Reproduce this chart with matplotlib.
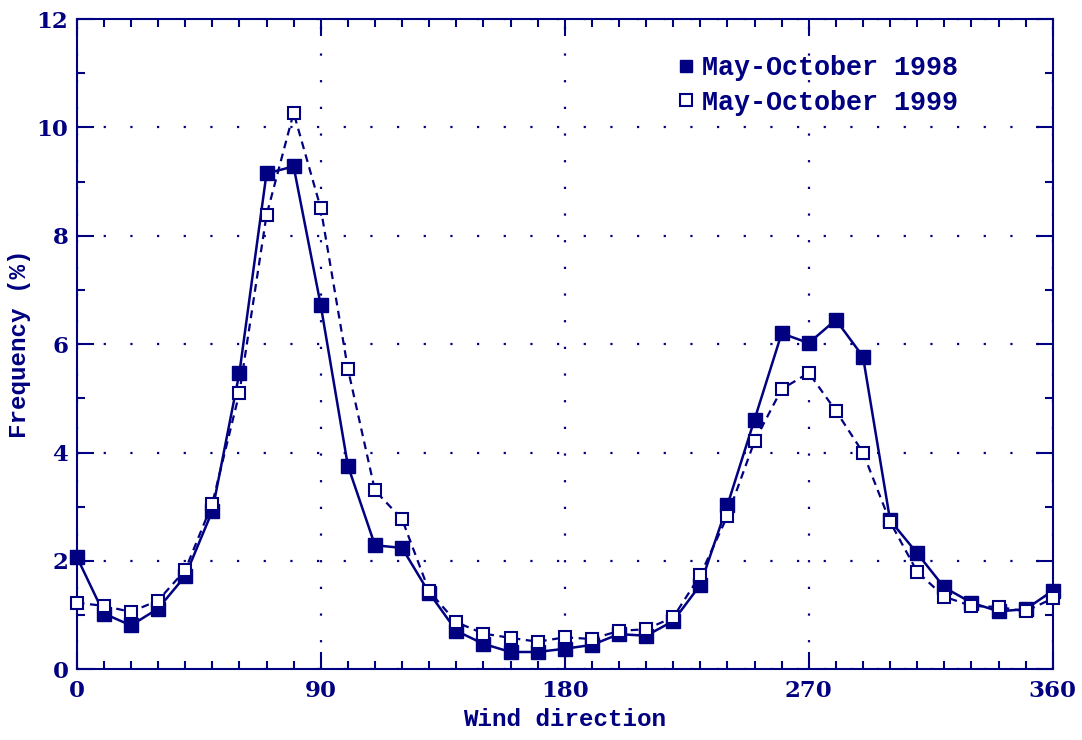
import matplotlib
matplotlib.use("Agg")
import matplotlib.pyplot as plt
from matplotlib.ticker import MultipleLocator

direction = list(range(0, 361, 10))
freq_1998 = [2.08, 1.03, 0.81, 1.12, 1.72, 2.92, 5.47, 9.15, 9.28, 6.72, 3.76, 2.29, 2.24, 1.41,
             0.71, 0.47, 0.32, 0.32, 0.38, 0.45, 0.65, 0.62, 0.89, 1.56, 3.03, 4.61, 6.20, 6.02,
             6.45, 5.77, 2.75, 2.14, 1.51, 1.23, 1.07, 1.11, 1.45]
freq_1999 = [1.23, 1.17, 1.06, 1.27, 1.83, 3.06, 5.10, 8.38, 10.27, 8.51, 5.55, 3.30, 2.77, 1.44,
             0.87, 0.66, 0.58, 0.51, 0.59, 0.56, 0.71, 0.74, 0.96, 1.74, 2.83, 4.21, 5.17, 5.47,
             4.77, 4.00, 2.72, 1.80, 1.34, 1.17, 1.15, 1.07, 1.31]
labels = ["May-October 1998", "May-October 1999"]
xticks = [0, 90, 180, 270, 360]
yticks = [0, 2, 4, 6, 8, 10, 12]

C = "#000080"
fig = plt.figure(figsize=(10.82, 7.40), dpi=100)
ax = fig.add_axes([0.0709, 0.0955, 0.9021, 0.8788])

ax.plot(direction, freq_1998, color=C, lw=1.8, ls="-", marker="s", ms=9.5, mfc=C, mec=C,
        label=labels[0], zorder=3, clip_on=False)
ax.plot(direction, freq_1999, color=C, lw=1.6, ls=(0, (3.5, 2.5)), marker="s", ms=8.5,
        mfc="white", mec=C, mew=1.5, label=labels[1], zorder=3, clip_on=False)

ax.set_xlim(0, 360)
ax.set_ylim(0, 12)
ax.set_xticks(xticks)
ax.set_yticks(yticks)
ax.xaxis.set_minor_locator(MultipleLocator(10))
ax.yaxis.set_minor_locator(MultipleLocator(1))
ax.tick_params(which="both", direction="in", top=True, right=True, color=C, width=1.5,
               labelcolor=C, labelsize=16.5)
ax.tick_params(axis="x", pad=8)
ax.tick_params(axis="y", pad=6)
ax.tick_params(which="major", length=12)
ax.tick_params(which="minor", length=6)
for lab in ax.get_xticklabels() + ax.get_yticklabels():
    lab.set_family("DejaVu Serif")
    lab.set_weight("bold")
for s in ax.spines.values():
    s.set_color(C)
    s.set_linewidth(1.5)
ax.grid(True, which="major", color=C, ls=(0, (1, 11)), lw=1.6)

lf = dict(family="Liberation Mono", weight="bold", size=17.5)
ax.set_xlabel("Wind direction", color=C, fontdict=lf, labelpad=4)
ax.set_ylabel("Frequency (%)", color=C, fontdict=dict(family="Liberation Mono", weight="bold", size=17.5), labelpad=4)

leg = ax.legend(loc="upper right", bbox_to_anchor=(0.928, 0.981), frameon=False, handlelength=0.6,
                handletextpad=0.3, labelspacing=0.3,
                prop=dict(family="Liberation Mono", weight="bold", size=19.3))
for h in leg.legend_handles:
    h.set_linestyle("none")
    h.set_markersize(8)
for t in leg.get_texts():
    t.set_color(C)

fig.savefig("out.png", dpi=100)
